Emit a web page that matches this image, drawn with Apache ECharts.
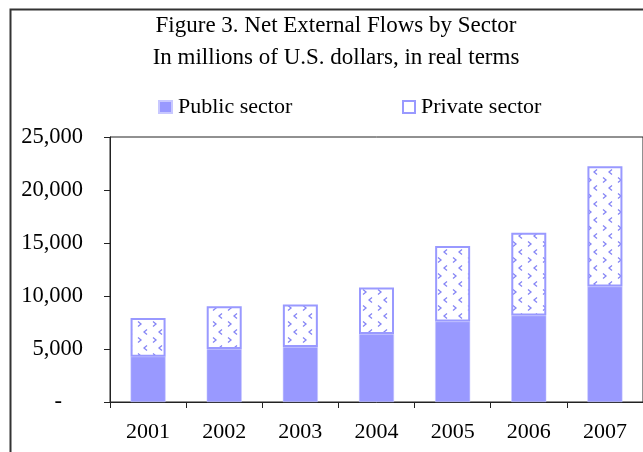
<!DOCTYPE html>
<html>
<head>
<meta charset="utf-8">
<script src="https://cdn.jsdelivr.net/npm/echarts@6/dist/echarts.min.js"></script>
<style>html,body{margin:0;padding:0;background:#fff}#c{width:643px;height:452px}</style>
</head>
<body>
<div id="c"></div>
<script>
var categories = ['2001', '2002', '2003', '2004', '2005', '2006', '2007'];
var publicSector = [4280, 5000, 5190, 6420, 7590, 8150, 10890];
var privateSector = [3640, 4030, 4000, 4380, 7130, 7820, 11350];
var yTicks = [0, 5000, 10000, 15000, 20000, 25000];

var FONT = "'Liberation Serif', 'Times New Roman', serif";
var BLUE = '#9999FF';

function makePattern() {
  var c = document.createElement('canvas');
  c.width = 15; c.height = 16;
  var g = c.getContext('2d');
  g.fillStyle = '#fff';
  g.fillRect(0, 0, 15, 16);
  g.strokeStyle = '#8585f5';
  g.lineWidth = 1.3;
  function chev(x, y, dir) {
    g.beginPath();
    g.moveTo(x, y);
    g.lineTo(x + 3 * dir, y + 2.5);
    g.lineTo(x, y + 5);
    g.stroke();
  }
  chev(3, 1.5, 1);
  chev(12, 9.5, -1);
  return c;
}

var chart = echarts.init(document.getElementById('c'), null, {renderer: 'canvas'});
chart.setOption({
  backgroundColor: '#fff',
  animation: false,
  title: {
    text: 'Figure 3. Net External Flows by Sector\nIn millions of U.S. dollars, in real terms',
    left: 336,
    top: 10,
    padding: 0,
    textAlign: 'center',
    textStyle: {fontFamily: FONT, fontSize: 23, fontWeight: 'normal', color: '#000', lineHeight: 32}
  },
  legend: [
    {
      data: ['Public sector'],
      left: 158, top: 96, padding: 0,
      itemWidth: 13, itemHeight: 12, itemGap: 7,
      icon: 'rect',
      textStyle: {fontFamily: FONT, fontSize: 22, color: '#000', padding: [0, 0, 0, 1]}
    },
    {
      data: [{name: 'Private sector', itemStyle: {color: '#fff', borderColor: BLUE, borderWidth: 2}}],
      left: 402, top: 96, padding: 0,
      itemWidth: 12, itemHeight: 12, itemGap: 7,
      icon: 'rect',
      textStyle: {fontFamily: FONT, fontSize: 22, color: '#000', padding: [0, 0, 0, 1]}
    }
  ],
  grid: {
    left: 110, right: -8, top: 137, bottom: 50,
    show: true, borderColor: '#222', borderWidth: 1, backgroundColor: 'transparent'
  },
  xAxis: {
    type: 'category',
    data: categories,
    boundaryGap: true,
    axisLine: {lineStyle: {color: '#222', width: 1}},
    axisTick: {show: true, alignWithLabel: false, length: 6, lineStyle: {color: '#222'}},
    axisLabel: {fontFamily: FONT, fontSize: 22, color: '#000', margin: 19}
  },
  yAxis: {
    type: 'value',
    min: yTicks[0],
    max: yTicks[yTicks.length - 1],
    interval: 5000,
    splitLine: {show: false},
    axisLine: {show: true, lineStyle: {color: '#222', width: 1}},
    axisTick: {show: true, inside: false, length: 6, lineStyle: {color: '#222'}},
    axisLabel: {
      fontFamily: FONT, fontSize: 22.5, color: '#000', margin: 27,
      formatter: function (v) {
        if (v === 0) return '{dash|-}';
        return v.toLocaleString('en-US');
      },
      rich: {dash: {fontFamily: FONT, fontSize: 22.5, color: '#000', padding: [0, 21, 0, 0]}}
    }
  },
  series: [
    {
      name: 'Public sector',
      type: 'bar',
      stack: 'total',
      data: publicSector,
      barWidth: 35,
      itemStyle: {color: BLUE, borderColor: '#c8c8ff', borderWidth: 0.5}
    },
    {
      name: 'Private sector',
      type: 'bar',
      stack: 'total',
      data: privateSector,
      barWidth: 35,
      itemStyle: {color: {image: makePattern(), repeat: 'repeat'}, borderColor: BLUE, borderWidth: 2}
    }
  ],
  graphic: [
    {
      type: 'polyline',
      silent: true,
      shape: {points: [[10.5, 452], [10.5, 9.5], [643, 9.5]]},
      style: {stroke: '#333', lineWidth: 2, fill: null}
    }
  ]
});
</script>
</body>
</html>
